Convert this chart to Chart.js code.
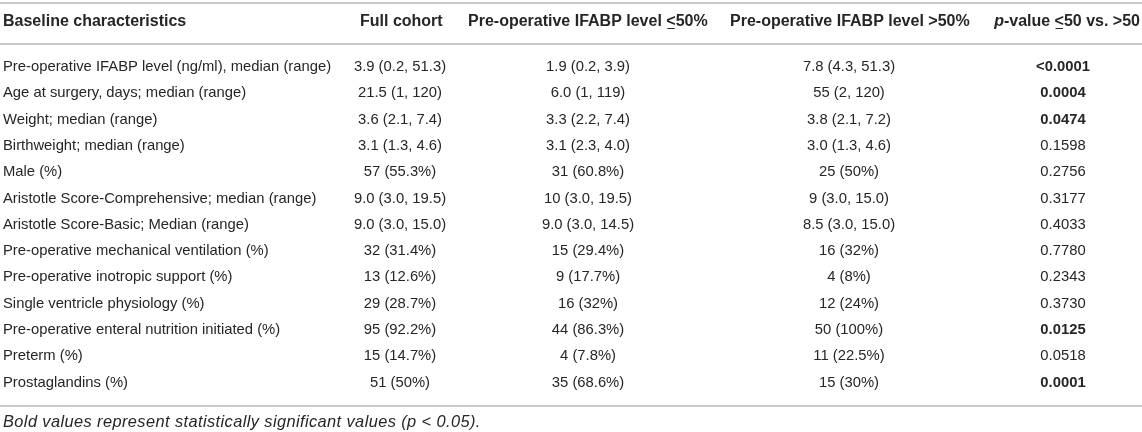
<!DOCTYPE html>
<html>
<head>
<meta charset="utf-8">
<title>Baseline characteristics</title>
<script src="https://cdn.jsdelivr.net/npm/chart.js@4.4.1/dist/chart.umd.min.js"></script>
<style>
    html, body { margin: 0; padding: 0; background: #fff; }
    #wrap { width: 1142px; height: 432px; }
</style>
</head>
<body>
<div id="wrap"><canvas id="myChart" width="1142" height="432"></canvas></div>
<script>
const headers = ["Baseline characteristics", "Full cohort", "Pre-operative IFABP level \u226450%", "Pre-operative IFABP level >50%", "p-value \u226450 vs. >50"];
const rowLabels = [
    "Pre-operative IFABP level (ng/ml), median (range)",
    "Age at surgery, days; median (range)",
    "Weight; median (range)",
    "Birthweight; median (range)",
    "Male (%)",
    "Aristotle Score-Comprehensive; median (range)",
    "Aristotle Score-Basic; Median (range)",
    "Pre-operative mechanical ventilation (%)",
    "Pre-operative inotropic support (%)",
    "Single ventricle physiology (%)",
    "Pre-operative enteral nutrition initiated (%)",
    "Preterm (%)",
    "Prostaglandins (%)"
];
const fullCohort = ["3.9 (0.2, 51.3)", "21.5 (1, 120)", "3.6 (2.1, 7.4)", "3.1 (1.3, 4.6)", "57 (55.3%)", "9.0 (3.0, 19.5)", "9.0 (3.0, 15.0)", "32 (31.4%)", "13 (12.6%)", "29 (28.7%)", "95 (92.2%)", "15 (14.7%)", "51 (50%)"];
const lowIfabp = ["1.9 (0.2, 3.9)", "6.0 (1, 119)", "3.3 (2.2, 7.4)", "3.1 (2.3, 4.0)", "31 (60.8%)", "10 (3.0, 19.5)", "9.0 (3.0, 14.5)", "15 (29.4%)", "9 (17.7%)", "16 (32%)", "44 (86.3%)", "4 (7.8%)", "35 (68.6%)"];
const highIfabp = ["7.8 (4.3, 51.3)", "55 (2, 120)", "3.8 (2.1, 7.2)", "3.0 (1.3, 4.6)", "25 (50%)", "9 (3.0, 15.0)", "8.5 (3.0, 15.0)", "16 (32%)", "4 (8%)", "12 (24%)", "50 (100%)", "11 (22.5%)", "15 (30%)"];
const pValues = ["<0.0001", "0.0004", "0.0474", "0.1598", "0.2756", "0.3177", "0.4033", "0.7780", "0.2343", "0.3730", "0.0125", "0.0518", "0.0001"];
const footnote = "Bold values represent statistically significant values (p < 0.05).";

// layout (x in table units, y in row units)
const colLayout = [
    { headerX: 3, headerAlign: 'left', cellX: 3, align: 'left' },
    { headerX: 360, headerAlign: 'left', cellX: 400, align: 'center' },
    { headerX: 468, headerAlign: 'left', cellX: 588, align: 'center' },
    { headerX: 730, headerAlign: 'left', cellX: 849, align: 'center' },
    { headerX: 1140, headerAlign: 'right', cellX: 1063, align: 'center', italicFirst: true }
];
const headerRow = -1.71;
const footnoteRow = 13.5;
const rules = [-2.44, -0.88, 12.9];

const fontFamily = '"Liberation Sans", Arial, Helvetica, sans-serif';
const bodyFont = '14.8px ' + fontFamily;
const boldFont = 'bold 14.8px ' + fontFamily;
const headerFont = 'bold 16px ' + fontFamily;
const headerItalic = 'italic bold 16px ' + fontFamily;
const footFont = 'italic 16.4px ' + fontFamily;
const textColor = '#262626';
const ruleColor = '#c8c8c8';

const columns = [rowLabels, fullCohort, lowIfabp, highIfabp, pValues];
const isSignificant = p => parseFloat(p.replace('<', '')) < 0.05;

// split a header into pieces; "≤" is drawn as an underlined "<"
function headerPieces(text, italicFirst) {
    const pieces = [];
    let rest = text;
    if (italicFirst) {
        pieces.push({ t: rest[0], font: headerItalic });
        rest = rest.slice(1);
    }
    rest.split('\u2264').forEach((part, i) => {
        if (i > 0) pieces.push({ t: '<', font: headerFont, underline: true });
        if (part) pieces.push({ t: part, font: headerFont });
    });
    return pieces;
}

const tablePlugin = {
    id: 'tableText',
    afterDraw(chart) {
        const { ctx, chartArea, scales: { x, y } } = chart;
        ctx.save();

        // horizontal rules
        ctx.strokeStyle = ruleColor;
        ctx.lineWidth = 2;
        rules.forEach(r => {
            const py = Math.round(y.getPixelForValue(r));
            ctx.beginPath();
            ctx.moveTo(chartArea.left, py);
            ctx.lineTo(chartArea.right, py);
            ctx.stroke();
        });

        ctx.fillStyle = textColor;
        ctx.strokeStyle = textColor;
        ctx.lineWidth = 1;
        ctx.textBaseline = 'middle';
        ctx.textAlign = 'left';

        // header
        const hy = y.getPixelForValue(headerRow);
        headers.forEach((h, c) => {
            const lay = colLayout[c];
            const pieces = headerPieces(h, lay.italicFirst);
            let total = 0;
            pieces.forEach(p => { ctx.font = p.font; p.w = ctx.measureText(p.t).width; total += p.w; });
            let px = x.getPixelForValue(lay.headerX);
            if (lay.headerAlign === 'right') px -= total;
            pieces.forEach(p => {
                ctx.font = p.font;
                ctx.fillText(p.t, px, hy);
                if (p.underline) {
                    ctx.beginPath();
                    ctx.moveTo(px + 1, Math.round(hy + 6) + 0.5);
                    ctx.lineTo(px + p.w - 1, Math.round(hy + 6) + 0.5);
                    ctx.stroke();
                }
                px += p.w;
            });
        });

        // body cells
        columns.forEach((col, c) => {
            ctx.textAlign = colLayout[c].align;
            const px = x.getPixelForValue(colLayout[c].cellX);
            col.forEach((val, r) => {
                ctx.font = (c === 4 && isSignificant(val)) ? boldFont : bodyFont;
                ctx.fillText(val, px, y.getPixelForValue(r));
            });
        });

        // footnote
        ctx.textAlign = 'left';
        ctx.font = footFont;
        ctx.letterSpacing = '0.4px';
        ctx.fillText(footnote, x.getPixelForValue(3), y.getPixelForValue(footnoteRow));

        ctx.restore();
    }
};

const ctx = document.getElementById('myChart').getContext('2d');
const myChart = new Chart(ctx, {
    type: 'scatter',
    data: {
        labels: rowLabels,
        datasets: [{
            label: 'rows',
            data: rowLabels.map((_, i) => ({ x: 0, y: i })),
            pointRadius: 0
        }]
    },
    options: {
        responsive: false,
        animation: false,
        layout: { padding: 0 },
        plugins: {
            legend: { display: false },
            tooltip: { enabled: false }
        },
        scales: {
            x: { type: 'linear', min: 0, max: 1142, display: false },
            y: { type: 'linear', reverse: true, min: -2.55, max: 13.88, display: false }
        }
    },
    plugins: [tablePlugin]
});
</script>
</body>
</html>
